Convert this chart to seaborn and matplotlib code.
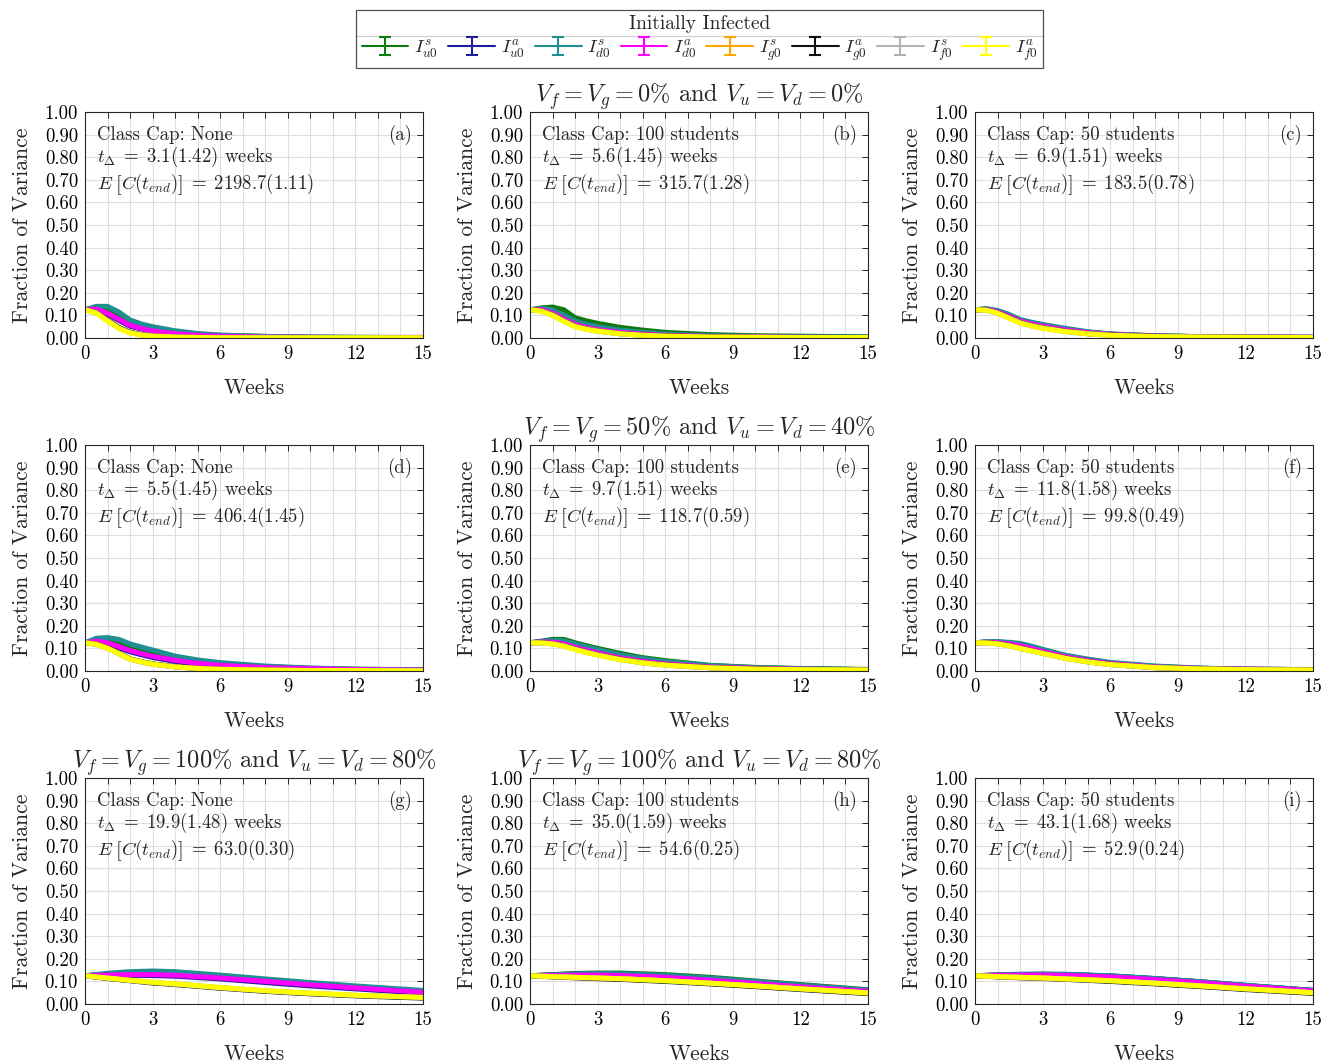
import numpy as np
import pandas as pd
import matplotlib
matplotlib.use("Agg")
import matplotlib.pyplot as plt
from matplotlib.lines import Line2D
import seaborn as sns

# ---------------- data ----------------
weeks = [0, 0.5, 1, 1.5, 2, 2.5, 3, 4, 5, 6, 8, 10, 12, 15]
weeks_r3 = [0, 1, 2, 3, 4, 6, 8, 10, 12, 15]

series_keys = ["us", "ua", "ds", "da", "gs", "ga", "fs", "fa"]
series_labels = [r"$I_{u0}^{s}$", r"$I_{u0}^{a}$", r"$I_{d0}^{s}$", r"$I_{d0}^{a}$",
                 r"$I_{g0}^{s}$", r"$I_{g0}^{a}$", r"$I_{f0}^{s}$", r"$I_{f0}^{a}$"]
series_colors = ["#0f7a0f", "#1c1c9c", "#1f8f8f", "#ff00ff",
                 "#ffa500", "#111111", "#b4b4b4", "#ffff00"]

# order: us, ua, ds, da, gs, ga, fs, fa
panel_a = [
    [0.125, 0.135, 0.128, 0.100, 0.068, 0.052, 0.040, 0.025, 0.017, 0.012, 0.007, 0.004, 0.003, 0.002],
    [0.125, 0.125, 0.105, 0.078, 0.052, 0.040, 0.030, 0.018, 0.012, 0.008, 0.004, 0.003, 0.002, 0.001],
    [0.125, 0.140, 0.140, 0.115, 0.080, 0.062, 0.050, 0.032, 0.020, 0.013, 0.007, 0.004, 0.003, 0.002],
    [0.125, 0.128, 0.110, 0.083, 0.056, 0.042, 0.031, 0.019, 0.012, 0.008, 0.004, 0.003, 0.002, 0.003],
    [0.125, 0.113, 0.080, 0.047, 0.026, 0.016, 0.010, 0.005, 0.003, 0.002, 0.001, 0.001, 0.001, 0.001],
    [0.125, 0.112, 0.079, 0.046, 0.025, 0.015, 0.009, 0.004, 0.002, 0.001, 0.001, 0.001, 0.001, 0.001],
    [0.125, 0.111, 0.077, 0.044, 0.024, 0.014, 0.009, 0.004, 0.002, 0.001, 0.001, 0.001, 0.001, 0.001],
    [0.125, 0.110, 0.075, 0.042, 0.022, 0.013, 0.008, 0.004, 0.002, 0.001, 0.001, 0.001, 0.001, 0.001],
]
panel_b = [
    [0.125, 0.133, 0.137, 0.125, 0.090, 0.076, 0.065, 0.047, 0.035, 0.025, 0.015, 0.010, 0.008, 0.005],
    [0.125, 0.128, 0.115, 0.090, 0.066, 0.053, 0.043, 0.030, 0.021, 0.015, 0.009, 0.006, 0.004, 0.003],
    [0.125, 0.130, 0.125, 0.100, 0.075, 0.061, 0.050, 0.035, 0.025, 0.018, 0.010, 0.007, 0.005, 0.003],
    [0.125, 0.126, 0.110, 0.085, 0.060, 0.047, 0.037, 0.025, 0.017, 0.012, 0.007, 0.005, 0.003, 0.002],
    [0.125, 0.121, 0.103, 0.077, 0.053, 0.041, 0.032, 0.020, 0.013, 0.009, 0.005, 0.003, 0.002, 0.002],
    [0.125, 0.120, 0.102, 0.076, 0.052, 0.040, 0.031, 0.019, 0.013, 0.009, 0.005, 0.003, 0.002, 0.002],
    [0.125, 0.119, 0.101, 0.075, 0.051, 0.039, 0.031, 0.019, 0.012, 0.008, 0.004, 0.003, 0.002, 0.002],
    [0.125, 0.118, 0.100, 0.073, 0.050, 0.038, 0.030, 0.018, 0.012, 0.008, 0.004, 0.003, 0.002, 0.002],
]
panel_c = [
    [0.125, 0.128, 0.118, 0.100, 0.078, 0.066, 0.056, 0.039, 0.026, 0.017, 0.009, 0.006, 0.004, 0.003],
    [0.125, 0.127, 0.117, 0.099, 0.077, 0.065, 0.055, 0.038, 0.025, 0.017, 0.009, 0.006, 0.004, 0.003],
    [0.125, 0.130, 0.122, 0.105, 0.082, 0.070, 0.060, 0.043, 0.028, 0.018, 0.010, 0.006, 0.004, 0.003],
    [0.125, 0.127, 0.116, 0.096, 0.075, 0.062, 0.052, 0.036, 0.024, 0.016, 0.008, 0.005, 0.004, 0.003],
    [0.125, 0.124, 0.111, 0.090, 0.069, 0.056, 0.046, 0.030, 0.020, 0.013, 0.007, 0.004, 0.003, 0.002],
    [0.125, 0.124, 0.111, 0.090, 0.068, 0.055, 0.045, 0.030, 0.019, 0.013, 0.007, 0.004, 0.003, 0.002],
    [0.125, 0.123, 0.110, 0.089, 0.067, 0.054, 0.044, 0.029, 0.019, 0.012, 0.006, 0.004, 0.003, 0.002],
    [0.125, 0.123, 0.110, 0.088, 0.066, 0.053, 0.043, 0.028, 0.018, 0.012, 0.006, 0.004, 0.003, 0.002],
]
panel_d = [
    [0.125, 0.135, 0.135, 0.125, 0.105, 0.092, 0.080, 0.058, 0.043, 0.032, 0.019, 0.012, 0.008, 0.005],
    [0.125, 0.130, 0.120, 0.102, 0.085, 0.072, 0.060, 0.042, 0.030, 0.022, 0.012, 0.008, 0.005, 0.004],
    [0.125, 0.145, 0.148, 0.140, 0.120, 0.106, 0.093, 0.066, 0.049, 0.037, 0.022, 0.013, 0.008, 0.005],
    [0.125, 0.132, 0.125, 0.108, 0.090, 0.077, 0.065, 0.047, 0.034, 0.025, 0.015, 0.010, 0.006, 0.004],
    [0.125, 0.119, 0.102, 0.079, 0.054, 0.042, 0.032, 0.019, 0.012, 0.008, 0.004, 0.002, 0.002, 0.001],
    [0.125, 0.119, 0.101, 0.078, 0.053, 0.041, 0.031, 0.019, 0.011, 0.007, 0.004, 0.002, 0.002, 0.001],
    [0.125, 0.118, 0.100, 0.077, 0.052, 0.040, 0.030, 0.018, 0.011, 0.007, 0.004, 0.002, 0.002, 0.001],
    [0.125, 0.118, 0.100, 0.077, 0.052, 0.040, 0.030, 0.018, 0.011, 0.007, 0.004, 0.002, 0.002, 0.001],
]
panel_e = [
    [0.125, 0.132, 0.140, 0.140, 0.125, 0.112, 0.100, 0.078, 0.059, 0.046, 0.025, 0.016, 0.011, 0.007],
    [0.125, 0.129, 0.130, 0.125, 0.110, 0.097, 0.085, 0.064, 0.048, 0.036, 0.020, 0.013, 0.009, 0.006],
    [0.125, 0.130, 0.135, 0.133, 0.120, 0.107, 0.095, 0.072, 0.055, 0.042, 0.024, 0.015, 0.010, 0.006],
    [0.125, 0.128, 0.128, 0.120, 0.105, 0.092, 0.080, 0.058, 0.043, 0.032, 0.018, 0.012, 0.008, 0.005],
    [0.125, 0.125, 0.121, 0.112, 0.097, 0.084, 0.072, 0.052, 0.037, 0.027, 0.015, 0.009, 0.006, 0.004],
    [0.125, 0.125, 0.121, 0.112, 0.097, 0.084, 0.072, 0.052, 0.037, 0.027, 0.015, 0.009, 0.006, 0.004],
    [0.125, 0.124, 0.120, 0.111, 0.096, 0.083, 0.071, 0.051, 0.036, 0.026, 0.014, 0.008, 0.006, 0.004],
    [0.125, 0.124, 0.120, 0.110, 0.095, 0.082, 0.070, 0.050, 0.036, 0.026, 0.014, 0.008, 0.006, 0.004],
]
panel_f = [
    [0.125, 0.128, 0.128, 0.125, 0.118, 0.107, 0.094, 0.068, 0.051, 0.036, 0.020, 0.012, 0.008, 0.006],
    [0.125, 0.128, 0.128, 0.124, 0.116, 0.105, 0.092, 0.066, 0.049, 0.035, 0.019, 0.012, 0.008, 0.006],
    [0.125, 0.129, 0.130, 0.127, 0.122, 0.110, 0.096, 0.070, 0.053, 0.038, 0.022, 0.013, 0.008, 0.006],
    [0.125, 0.127, 0.125, 0.120, 0.112, 0.100, 0.087, 0.063, 0.046, 0.033, 0.018, 0.011, 0.008, 0.006],
    [0.125, 0.125, 0.121, 0.113, 0.102, 0.090, 0.079, 0.057, 0.041, 0.029, 0.015, 0.009, 0.006, 0.004],
    [0.125, 0.125, 0.121, 0.113, 0.101, 0.090, 0.079, 0.057, 0.041, 0.029, 0.015, 0.009, 0.006, 0.004],
    [0.125, 0.124, 0.120, 0.112, 0.100, 0.089, 0.078, 0.056, 0.040, 0.028, 0.015, 0.009, 0.006, 0.004],
    [0.125, 0.124, 0.120, 0.111, 0.100, 0.089, 0.078, 0.056, 0.040, 0.028, 0.015, 0.009, 0.006, 0.004],
]
panel_g = [
    [0.125, 0.133, 0.139, 0.140, 0.137, 0.122, 0.106, 0.090, 0.076, 0.056],
    [0.125, 0.126, 0.127, 0.126, 0.123, 0.111, 0.095, 0.080, 0.067, 0.048],
    [0.125, 0.136, 0.143, 0.146, 0.143, 0.128, 0.111, 0.095, 0.080, 0.060],
    [0.125, 0.128, 0.130, 0.130, 0.127, 0.115, 0.100, 0.085, 0.071, 0.052],
    [0.125, 0.114, 0.104, 0.095, 0.088, 0.072, 0.058, 0.047, 0.038, 0.029],
    [0.125, 0.113, 0.103, 0.093, 0.086, 0.070, 0.056, 0.045, 0.036, 0.026],
    [0.125, 0.114, 0.104, 0.095, 0.088, 0.072, 0.058, 0.047, 0.038, 0.029],
    [0.125, 0.115, 0.105, 0.096, 0.089, 0.073, 0.059, 0.048, 0.039, 0.029],
]
panel_h = [
    [0.125, 0.130, 0.135, 0.137, 0.137, 0.130, 0.118, 0.102, 0.086, 0.063],
    [0.125, 0.128, 0.132, 0.133, 0.132, 0.125, 0.113, 0.098, 0.082, 0.060],
    [0.125, 0.129, 0.133, 0.135, 0.134, 0.127, 0.115, 0.100, 0.084, 0.061],
    [0.125, 0.126, 0.128, 0.128, 0.126, 0.118, 0.105, 0.091, 0.076, 0.056],
    [0.125, 0.121, 0.118, 0.115, 0.112, 0.103, 0.092, 0.080, 0.067, 0.049],
    [0.125, 0.120, 0.116, 0.112, 0.109, 0.100, 0.089, 0.077, 0.064, 0.046],
    [0.125, 0.121, 0.118, 0.115, 0.112, 0.103, 0.092, 0.080, 0.067, 0.049],
    [0.125, 0.121, 0.118, 0.115, 0.112, 0.103, 0.092, 0.080, 0.067, 0.049],
]
panel_i = [
    [0.125, 0.128, 0.130, 0.131, 0.130, 0.124, 0.112, 0.098, 0.082, 0.060],
    [0.125, 0.128, 0.130, 0.131, 0.130, 0.124, 0.112, 0.098, 0.082, 0.060],
    [0.125, 0.129, 0.132, 0.133, 0.132, 0.125, 0.113, 0.099, 0.083, 0.060],
    [0.125, 0.127, 0.128, 0.128, 0.127, 0.120, 0.108, 0.094, 0.079, 0.058],
    [0.125, 0.121, 0.118, 0.115, 0.111, 0.103, 0.092, 0.080, 0.067, 0.050],
    [0.125, 0.120, 0.116, 0.113, 0.109, 0.100, 0.089, 0.077, 0.064, 0.047],
    [0.125, 0.121, 0.118, 0.115, 0.111, 0.103, 0.092, 0.080, 0.067, 0.050],
    [0.125, 0.121, 0.118, 0.115, 0.111, 0.103, 0.092, 0.080, 0.067, 0.050],
]

panels = [panel_a, panel_b, panel_c, panel_d, panel_e, panel_f, panel_g, panel_h, panel_i]
panel_letters = ["(a)", "(b)", "(c)", "(d)", "(e)", "(f)", "(g)", "(h)", "(i)"]
caps = ["None", "100 students", "50 students"] * 3
t_delta = ["3.1(1.42)", "5.6(1.45)", "6.9(1.51)",
           "5.5(1.45)", "9.7(1.51)", "11.8(1.58)",
           "19.9(1.48)", "35.0(1.59)", "43.1(1.68)"]
e_cend = ["2198.7(1.11)", "315.7(1.28)", "183.5(0.78)",
          "406.4(1.45)", "118.7(0.59)", "99.8(0.49)",
          "63.0(0.30)", "54.6(0.25)", "52.9(0.24)"]
titles = [None, r"$V_f = V_g = 0\%$ and $V_u = V_d = 0\%$", None,
          None, r"$V_f = V_g = 50\%$ and $V_u = V_d = 40\%$", None,
          r"$V_f = V_g = 100\%$ and $V_u = V_d = 80\%$",
          r"$V_f = V_g = 100\%$ and $V_u = V_d = 80\%$", None]
x_ticks = list(range(16))
y_ticks = [0.0, 0.1, 0.2, 0.3, 0.4, 0.5, 0.6, 0.7, 0.8, 0.9, 1.0]

# ---------------- style ----------------
sns.set_style("white")
plt.rcParams["font.family"] = ["cmr10", "DejaVu Serif"]
plt.rcParams["mathtext.fontset"] = "cm"
plt.rcParams["axes.formatter.use_mathtext"] = True
plt.rcParams["axes.unicode_minus"] = False

W, H = 1325, 1063
fig = plt.figure(figsize=(W / 100, H / 100), dpi=100)

col_left = [85, 530, 975]
row_bottom = [338, 671, 1004]
ax_w, ax_h = 338, 226

palette = dict(zip(series_keys, series_colors))

for i, pdata in enumerate(panels):
    r, c = divmod(i, 3)
    ax = fig.add_axes([col_left[c] / W, 1 - row_bottom[r] / H, ax_w / W, ax_h / H])
    t = weeks if r < 2 else weeks_r3
    rows = []
    for key, vals in zip(series_keys, pdata):
        for tt, v in zip(t, vals):
            rows.append({"week": tt, "frac": v, "series": key})
    df = pd.DataFrame(rows)
    sns.lineplot(data=df, x="week", y="frac", hue="series", hue_order=series_keys,
                 palette=palette, linewidth=3.6, errorbar=None, legend=False, ax=ax)
    ax.set_xlim(0, 15)
    ax.set_ylim(0, 1)
    ax.set_xticks(x_ticks)
    ax.set_xticklabels([str(x) if x % 3 == 0 else "" for x in x_ticks])
    ax.set_yticks(y_ticks)
    ax.set_yticklabels([f"{y:.2f}" for y in y_ticks])
    ax.grid(True, color="#dedede", linewidth=0.8)
    ax.set_axisbelow(True)
    ax.tick_params(direction="in", length=4, width=0.7, top=True, right=True,
                   labelsize=13.5, colors="#262626", labelcolor="black", pad=5)
    for s in ax.spines.values():
        s.set_color("#262626")
        s.set_linewidth(0.8)
    ax.set_xlabel("Weeks", fontsize=15.5, labelpad=11)
    ax.set_ylabel("Fraction of Variance", fontsize=15.5, labelpad=9)
    tx = 0.036
    ax.text(tx, 0.9, f"Class Cap: {caps[i]}", transform=ax.transAxes,
            fontsize=13.5, va="center", ha="left")
    ax.text(tx, 0.8, r"$t_\Delta\;=\;" + t_delta[i] + r"$ weeks", transform=ax.transAxes,
            fontsize=13.5, va="center", ha="left")
    ax.text(tx, 0.68, r"$E\;\left[C(t_{end})\right]\;=\;" + e_cend[i] + r"$", transform=ax.transAxes,
            fontsize=13.5, va="center", ha="left")
    ax.text(0.967, 0.9, panel_letters[i], transform=ax.transAxes,
            fontsize=13.5, va="center", ha="right")
    if titles[i]:
        ax.set_title(titles[i], fontsize=17.5, pad=7)
    if i == 0:
        first_ax = ax

# legend with errorbar glyphs
handles = []
for col in series_colors:
    h = first_ax.errorbar([np.nan], [np.nan], yerr=[np.nan], color=col, capsize=4,
                          linewidth=1.5, elinewidth=1.5, capthick=1.5)
    handles.append(h)
leg = fig.legend(handles, series_labels, ncol=8, loc="upper center",
                 bbox_to_anchor=(0.528, 0.991), title="Initially Infected",
                 fontsize=13.5, title_fontsize=14, frameon=True, fancybox=False,
                 edgecolor="#262626", handlelength=2.5, handletextpad=0.3,
                 columnspacing=0.55, borderpad=0.3, borderaxespad=0, labelspacing=0.2)
leg.get_frame().set_linewidth(0.9)
fig.canvas.draw()
renderer = fig.canvas.get_renderer()
lb = leg.get_window_extent(renderer)
tb = leg.get_title().get_window_extent(renderer)
ysep = (tb.y0 - 3) / H
fig.add_artist(Line2D([lb.x0 / W, lb.x1 / W], [ysep, ysep], color="#262626",
                      linewidth=0.9, transform=fig.transFigure))

fig.savefig("out.png", dpi=100)
